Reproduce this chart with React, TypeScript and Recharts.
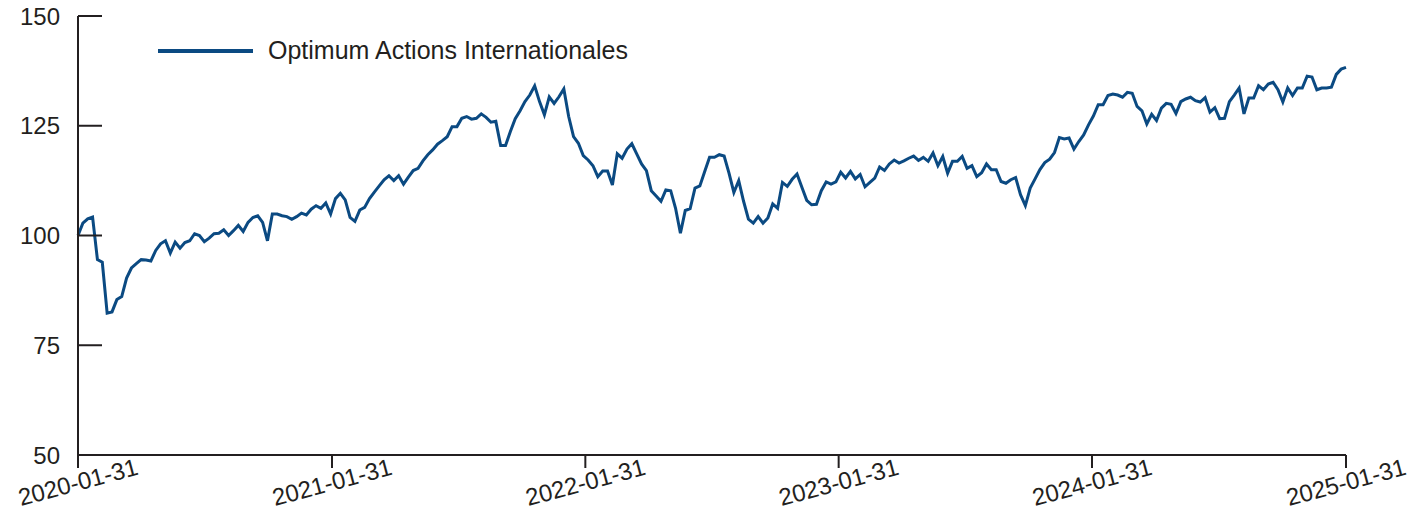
import { LineChart, Line, XAxis, YAxis } from "recharts";

const seriesName = "Optimum Actions Internationales";
const startDate = "2020-01-31";
const tickDates = ["2020-01-31", "2021-01-31", "2022-01-31", "2023-01-31", "2024-01-31", "2025-01-31"];
const yTicks = [50, 75, 100, 125, 150];

// weekly values
const values2020 = [
  100, 102.8, 103.8, 104.2, 94.5, 93.9, 82.3, 82.6, 85.4, 86.1, 90.3, 92.6, 93.6, 94.5, 94.4, 94.2,
  96.6, 98.1, 98.8, 96.0, 98.5, 97.1, 98.4, 98.8, 100.4, 100, 98.6, 99.4, 100.4, 100.5, 101.3, 100,
  101.1, 102.3, 100.9, 103, 104.1, 104.5, 103, 98.8, 104.9, 104.9, 104.5, 104.3, 103.7, 104.3, 105.1,
  104.7, 106, 106.8, 106.2, 107.4,
];
const values2021 = [
  104.9, 108.4, 109.6, 108.1, 104.1, 103.2, 105.8, 106.4, 108.4, 109.9, 111.3, 112.7, 113.6, 112.5,
  113.6, 111.7, 113.3, 114.8, 115.3, 117, 118.4, 119.5, 120.8, 121.6, 122.5, 124.8, 124.8, 126.7,
  127.1, 126.5, 126.7, 127.7, 126.9, 125.8, 126, 120.5, 120.5, 123.7, 126.6, 128.4, 130.5, 132, 134.1,
  130.5, 127.5, 131.6, 130.1, 131.6, 133.4, 127.1, 122.5, 121,
];
const values2022 = [
  118.2, 117.2, 115.9, 113.4, 114.7, 114.7, 111.5, 118.6, 117.6, 119.7, 120.9, 118.6, 116.3, 114.8,
  110.2, 109, 107.8, 110.4, 110.2, 106.2, 100.5, 105.7, 106.1, 110.8, 111.3, 114.6, 117.8, 117.8, 118.4,
  118.1, 114.2, 109.8, 112.5, 107.8, 103.7, 102.8, 104.3, 102.8, 104, 107.2, 106.2, 112.1, 111.2, 112.8,
  114, 111, 108, 107, 107.1, 110.2, 112.2, 111.7,
];
const values2023 = [
  112.2, 114.4, 113.1, 114.6, 112.9, 113.9, 111.1, 112.1, 113.1, 115.6, 114.8, 116.3, 117.2, 116.5, 117,
  117.6, 118.1, 117.1, 117.8, 116.9, 118.8, 115.9, 118, 114.2, 116.9, 116.9, 118, 115.3, 115.9, 113.4,
  114.3, 116.3, 115, 115, 112.3, 111.9, 112.7, 113.2, 109.3, 106.8, 110.8, 112.9, 115, 116.6, 117.4,
  118.9, 122.3, 122, 122.2, 119.7, 121.4, 122.9,
];
const values2024 = [
  125.2, 127.2, 129.8, 129.8, 131.9, 132.2, 132, 131.5, 132.6, 132.4, 129.4, 128.4, 125.4, 127.6, 126.2,
  129, 130.1, 129.9, 127.8, 130.5, 131.1, 131.5, 130.7, 130.4, 131.4, 128.1, 129.1, 126.6, 126.7, 130.5,
  132, 133.6, 127.7, 131.3, 131.3, 134.1, 133.2, 134.5, 134.9, 133.2, 130.4, 133.6, 131.9, 133.6, 133.6,
  136.3, 136.1, 133.2, 133.6, 133.6, 133.8, 136.7, 137.9, 138.3,
];

const values = [...values2020, ...values2021, ...values2022, ...values2023, ...values2024];

const DAY = 86400000;
const t0 = Date.parse(startDate);
const data = values.map((v, i) => ({ t: t0 + i * 7 * DAY, v }));
const tickTimes = tickDates.map((d) => Date.parse(d));

const INK = "#231f20";
const BLUE = "#0b4a82";
const FONT = "'Liberation Sans', Arial, sans-serif";

const fmtDate = (t: number) => new Date(t).toISOString().slice(0, 10);

function YTick(props: any) {
  const { x, y, payload } = props;
  return (
    <g>
      <line x1={x} x2={x + 24} y1={y} y2={y} stroke={INK} strokeWidth={2} />
      <text x={x - 18} y={y} textAnchor="end" dominantBaseline="central" fontSize={24} fill={INK} fontFamily={FONT}>
        {payload.value}
      </text>
    </g>
  );
}

function XTick(props: any) {
  const { x, y, payload } = props;
  const ly = y + 27;
  return (
    <g>
      <line x1={x} x2={x} y1={y} y2={y + 13} stroke={INK} strokeWidth={2} />
      <text
        x={x}
        y={ly}
        textAnchor="middle"
        dominantBaseline="central"
        fontSize={24}
        fill={INK}
        fontFamily={FONT}
        transform={`rotate(-15 ${x} ${ly})`}
      >
        {fmtDate(payload.value)}
      </text>
    </g>
  );
}

export default function App() {
  return (
    <div style={{ position: "relative", width: 1420, height: 527, marginTop: -8 }}>
      <LineChart width={1420} height={527} data={data} margin={{ top: 16, right: 82, left: 0, bottom: 12 }}>
        <XAxis
          dataKey="t"
          type="number"
          domain={[tickTimes[0], tickTimes[tickTimes.length - 1]]}
          ticks={tickTimes}
          tick={<XTick />}
          tickLine={false}
          tickSize={0}
          tickMargin={0}
          height={60}
          axisLine={{ stroke: INK, strokeWidth: 2 }}
          interval={0}
        />
        <YAxis
          type="number"
          domain={[50, 150]}
          ticks={yTicks}
          tick={<YTick />}
          tickLine={false}
          tickSize={0}
          tickMargin={0}
          width={70}
          axisLine={{ stroke: INK, strokeWidth: 2 }}
          interval={0}
        />
        <Line
          type="linear"
          dataKey="v"
          name={seriesName}
          stroke={BLUE}
          strokeWidth={3}
          dot={false}
          isAnimationActive={false}
        />
      </LineChart>
      <div
        style={{
          position: "absolute",
          top: 36,
          left: 150,
          display: "flex",
          alignItems: "center",
          fontFamily: FONT,
          fontSize: 25,
          color: INK,
          whiteSpace: "nowrap",
        }}
      >
        <svg width={95} height={6}>
          <line x1={0} x2={95} y1={3} y2={3} stroke={BLUE} strokeWidth={4} />
        </svg>
        <span style={{ marginLeft: 15 }}>{seriesName}</span>
      </div>
    </div>
  );
}
